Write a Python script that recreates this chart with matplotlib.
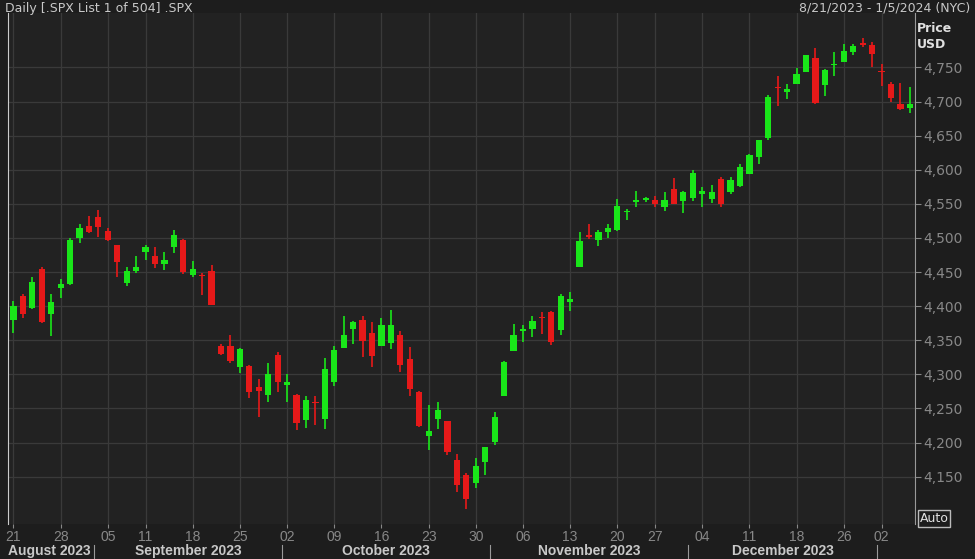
import matplotlib
matplotlib.use("Agg")
import matplotlib.pyplot as plt
from matplotlib.patches import Rectangle
import pandas as pd

dates = pd.bdate_range("2023-08-21", "2024-01-05")
holidays = ["2023-09-04", "2023-11-23", "2023-12-25", "2024-01-01"]
dates = [d for d in dates if d.strftime("%Y-%m-%d") not in holidays]

opens = [4380,4415,4397,4455,4389,4426,4433,4500,4517,4530,4510,4490,4434,4452,4480,4473,4462,4487,4497,4445,
         4445,4452,4342,4341,4310,4312,4282,4269,4328,4284,4270,4233,4259,4234,4289,4339,4366,4380,4360,4342,
         4346,4357,4322,4274,4210,4235,4232,4175,4152,4140,4171,4201,4268,4334,4364,4366,4384,4391,4365,4406,
         4458,4505,4497,4509,4512,4538,4553,4555,4555,4545,4571,4554,4559,4564,4557,4586,4568,4576,4593,4618,
         4646,4721,4714,4725,4743,4764,4724,4754,4758,4773,4786,4783,4745,4726,4697,4690]
highs = [4407,4418,4443,4458,4418,4440,4500,4521,4532,4541,4514,4490,4457,4473,4490,4487,4479,4511,4498,4466,
         4449,4461,4345,4357,4338,4313,4293,4317,4333,4300,4271,4268,4268,4324,4341,4385,4378,4385,4377,4383,
         4394,4364,4340,4276,4255,4259,4232,4183,4156,4177,4194,4245,4319,4374,4372,4386,4391,4393,4418,4421,
         4508,4521,4511,4521,4557,4542,4569,4560,4562,4568,4588,4569,4599,4574,4578,4590,4590,4609,4623,4643,
         4709,4738,4725,4749,4768,4778,4748,4772,4785,4785,4793,4788,4755,4729,4727,4721]
lows = [4360,4382,4396,4375,4356,4412,4431,4493,4507,4501,4496,4442,4430,4448,4468,4456,4453,4478,4447,4442,
        4416,4402,4329,4316,4302,4265,4238,4260,4274,4260,4219,4221,4225,4220,4283,4339,4345,4325,4311,4342,
        4337,4303,4268,4223,4189,4220,4181,4127,4103,4133,4153,4197,4268,4334,4347,4355,4359,4343,4357,4393,
        4458,4499,4488,4500,4510,4526,4546,4553,4546,4540,4549,4537,4554,4545,4551,4546,4565,4574,4593,4608,
        4644,4694,4704,4725,4743,4697,4708,4737,4758,4768,4780,4751,4723,4700,4687,4683]
closes = [4400,4388,4436,4376,4406,4433,4497,4515,4508,4516,4497,4465,4451,4458,4487,4462,4467,4505,4450,4454,
          4444,4402,4330,4320,4337,4274,4275,4300,4288,4288,4229,4263,4258,4308,4336,4358,4376,4349,4327,4373,
          4373,4314,4278,4224,4217,4247,4186,4137,4117,4166,4194,4237,4318,4358,4366,4378,4383,4347,4415,4411,
          4496,4502,4508,4514,4547,4538,4556,4559,4550,4555,4550,4568,4595,4569,4567,4549,4585,4604,4622,4643,
          4707,4720,4719,4741,4768,4698,4746,4755,4774,4781,4783,4770,4743,4705,4689,4697]
price_ticks = [4150,4200,4250,4300,4350,4400,4450,4500,4550,4600,4650,4700,4750]
day_ticks = ["2023-08-21","2023-08-28","2023-09-05","2023-09-11","2023-09-18","2023-09-25","2023-10-02",
             "2023-10-09","2023-10-16","2023-10-23","2023-10-30","2023-11-06","2023-11-13","2023-11-20",
             "2023-11-27","2023-12-04","2023-12-11","2023-12-18","2023-12-26","2024-01-02"]
months = ["August 2023","September 2023","October 2023","November 2023","December 2023"]
month_starts = ["2023-09-01","2023-10-02","2023-11-01","2023-12-01","2024-01-02"]

BG = "#1d1d1d"; PLOT = "#222222"; GRID = "#3a3a3a"; TXT = "#c8c8c8"
GREEN = "#19e619"; RED = "#e61919"
NARROW = "Liberation Sans"

fig = plt.figure(figsize=(9.75, 5.59), dpi=100, facecolor=BG)
ax = fig.add_axes([0.008, 0.062, 0.93, 0.915], facecolor=PLOT)
dstr = [d.strftime("%Y-%m-%d") for d in dates]
n = len(dates)
for i in range(n):
    o, h, l, c = opens[i], highs[i], lows[i], closes[i]
    col = GREEN if c >= o else RED
    ax.vlines(i, l, h, color=col, lw=1.2, zorder=3)
    body = max(abs(c - o), 1.2)
    ax.add_patch(Rectangle((i - 0.33, min(o, c)), 0.66, body, color=col, zorder=4, lw=0))
ax.set_xlim(-0.6, n - 0.5)
ax.set_ylim(4080, 4830)
tick_idx = [dstr.index(d) for d in day_ticks]
ax.set_xticks(tick_idx)
ax.set_xticklabels([d[-2:] for d in day_ticks], color=TXT, fontsize=10, family=NARROW)
ax.set_yticks(price_ticks)
ax.set_yticklabels([f"{p:,}" for p in price_ticks], color=TXT, fontsize=10)
for lab in ax.get_yticklabels():
    if lab.get_text() == "4,500":
        lab.set_fontweight("bold"); lab.set_color("#e8e8e8")
ax.yaxis.tick_right()
ax.tick_params(axis="x", colors="#888888", length=3, pad=1)
ax.tick_params(axis="y", colors="#888888", length=4, pad=2)
ax.grid(True, color=GRID, lw=0.9)
for s in ["top", "bottom"]:
    ax.spines[s].set_visible(False)
ax.spines["right"].set_color("#999999")
ax.spines["left"].set_color("#cccccc")

bounds = [-0.6] + [dstr.index(m) - 0.5 for m in month_starts]
for k, name in enumerate(months):
    if k == 0:
        ax.text(-0.55, -0.053, name, transform=ax.get_xaxis_transform(), ha="left", va="center",
                color=TXT, fontsize=10, fontweight="bold", family=NARROW)
    else:
        ax.text((bounds[k] + bounds[k + 1]) / 2, -0.053, name, transform=ax.get_xaxis_transform(),
                ha="center", va="center", color=TXT, fontsize=10, fontweight="bold", family=NARROW)
for b in bounds[1:]:
    ax.plot([b, b], [-0.066, -0.04], transform=ax.get_xaxis_transform(), color="#999999", lw=0.8, clip_on=False)

fig.text(0.005, 0.985, "Daily [.SPX List 1 of 504] .SPX", color=TXT, fontsize=9, va="center")
fig.text(0.995, 0.985, "8/21/2023 - 1/5/2024 (NYC)", color=TXT, fontsize=9, va="center", ha="right")
fig.text(0.94, 0.935, "Price\nUSD", color="#e0e0e0", fontsize=9, fontweight="bold", va="center", linespacing=1.3)
fig.text(0.958, 0.073, "Auto", color="#e0e0e0", fontsize=9, ha="center", va="center",
         bbox=dict(boxstyle="square,pad=0.15", fc=BG, ec="#bbbbbb"))
fig.savefig("out.png", dpi=100, facecolor=BG)
